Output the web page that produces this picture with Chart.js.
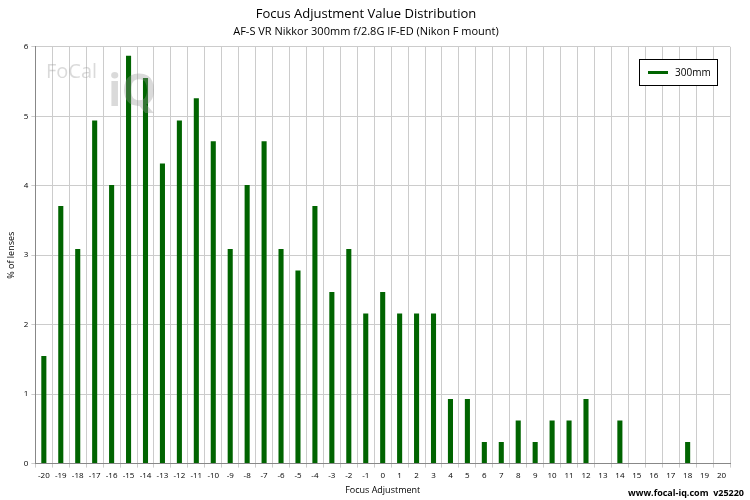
<!DOCTYPE html>
<html><head><meta charset="utf-8">
<script src="https://cdn.jsdelivr.net/npm/chart.js@4"></script>
<style>body{margin:0;background:#fff}#wrap{width:750px;height:500px;position:relative}</style>
</head><body><div id="wrap"><canvas id="myChart"></canvas></div>
<script>
const categories = [-20,-19,-18,-17,-16,-15,-14,-13,-12,-11,-10,-9,-8,-7,-6,-5,-4,-3,-2,-1,0,1,2,3,4,5,6,7,8,9,10,11,12,13,14,15,16,17,18,19,20];
const lens300 = [1.55,3.71,3.09,4.94,4.01,5.87,5.55,4.32,4.94,5.26,4.64,3.09,4.01,4.64,3.09,2.78,3.71,2.47,3.09,2.16,2.47,2.16,2.16,2.16,0.93,0.93,0.31,0.31,0.62,0.31,0.62,0.62,0.93,0,0.62,0,0,0,0.31,0,0];
const yTicks = [0,1,2,3,4,5,6];

const font = 'Open Sans';
// legend box, watermark and footer drawn on top
const extras = {
  id: 'extras',
  afterDraw(chart) {
    const c = chart.ctx;
    c.save();
    c.font = '20px ' + font;
    c.fillStyle = 'rgba(150,150,150,0.35)';
    c.fillText('FoCal', 46, 78);
    c.font = 'bold 44px ' + font;
    c.fillText('iQ', 108, 106);
    c.strokeStyle = '#000'; c.lineWidth = 1;
    c.fillStyle = '#fff';
    c.fillRect(639.5, 59.5, 78, 26); c.strokeRect(639.5, 59.5, 78, 26);
    c.fillStyle = '#006400'; c.fillRect(648, 71, 20, 3);
    c.fillStyle = '#000'; c.font = '10px ' + font; c.textBaseline = 'middle';
    c.fillText('300mm', 675, 73);
    c.font = 'bold 9px ' + font; c.textAlign = 'right';
    c.fillText('www.focal-iq.com  v25220', 744, 493);
    c.restore();
  }
};

new Chart(document.getElementById('myChart'), {
  type: 'bar',
  data: { labels: categories, datasets: [{ label: '300mm', data: lens300, backgroundColor: '#006400', barPercentage: 0.3, categoryPercentage: 1 }] },
  options: {
    responsive: true, maintainAspectRatio: false, animation: false,
    layout: { padding: { left: 2, right: 20, top: 0, bottom: 0 } },
    plugins: {
      legend: { display: false },
      title: { display: true, text: 'Focus Adjustment Value Distribution', color: '#000', font: { family: font, size: 13, weight: 'normal' }, padding: { top: 6, bottom: 4 } },
      subtitle: { display: true, text: 'AF-S VR Nikkor 300mm f/2.8G IF-ED (Nikon F mount)', color: '#000', font: { family: font, size: 11 }, padding: { bottom: 8 } },
      tooltip: { enabled: false }
    },
    scales: {
      x: {
        grid: { color: '#ccc', offset: true, drawTicks: true, tickLength: 4 },
        border: { color: '#888' },
        ticks: { color: '#000', font: { family: font, size: 8 }, maxRotation: 0, autoSkip: false },
        title: { display: true, text: 'Focus Adjustment', color: '#000', font: { family: font, size: 9 }, padding: { top: 2 } }
      },
      y: {
        min: 0, max: 6,
        afterBuildTicks: ax => { ax.ticks = yTicks.map(v => ({ value: v })); },
        grid: { color: '#ccc', tickLength: 4 },
        border: { color: '#888' },
        ticks: { color: '#000', font: { family: font, size: 8 } },
        title: { display: true, text: '% of lenses', color: '#000', font: { family: font, size: 9 } }
      }
    }
  },
  plugins: [extras]
});
</script></body></html>
